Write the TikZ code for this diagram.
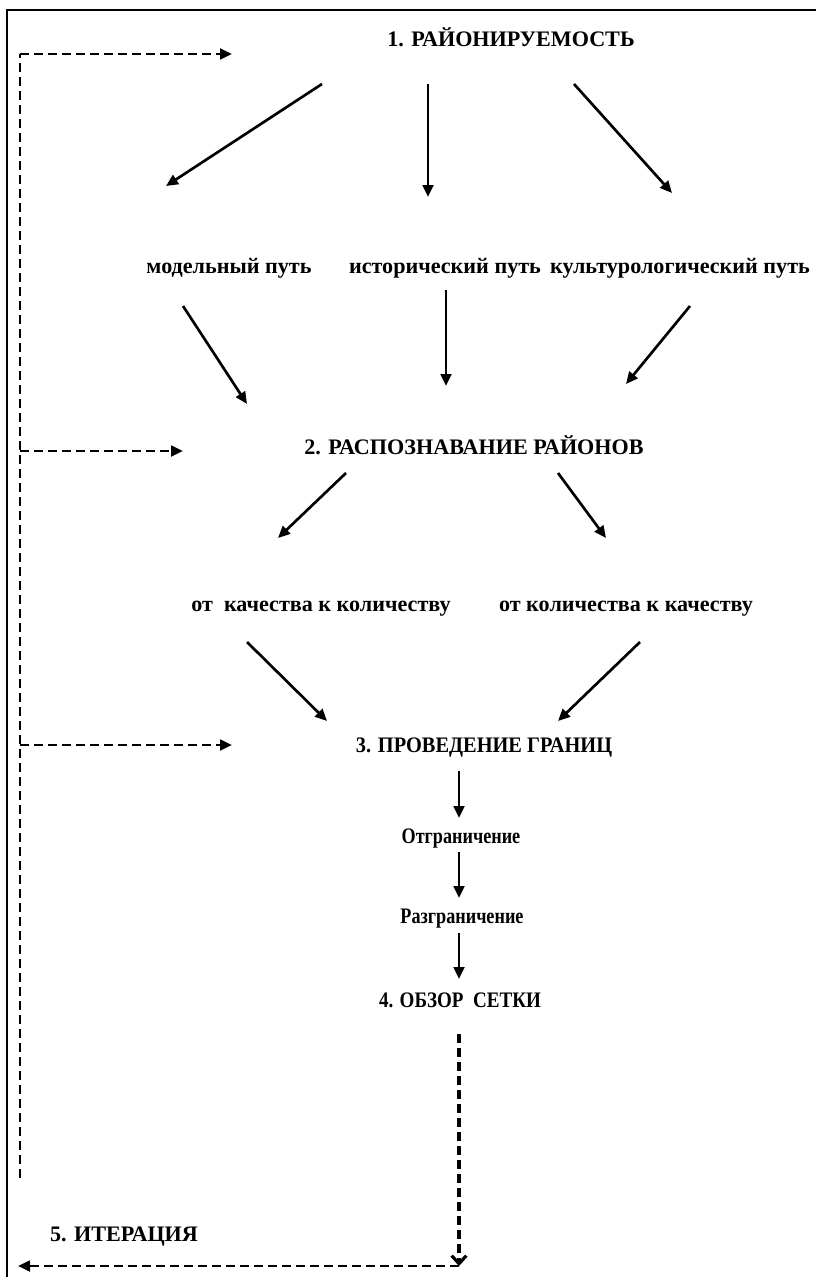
\documentclass[tikz,border=0pt]{standalone}
\usepackage{graphicx}
\usepackage{fontspec}
\setmainfont{Liberation Serif}
\usetikzlibrary{arrows.meta}
\newcommand{\narrowtext}[2]{\scalebox{#1}[1]{#2}}
\tikzset{
  lbl/.style={inner sep=0.75pt, anchor=base, font=\bfseries\fontsize{16.6}{19}\selectfont},
  arr/.style={line width=2pt, -{Triangle[length=9pt,width=8pt]}},
  darr/.style={line width=2pt, dash pattern=on 6.5pt off 4pt, -{Triangle[length=9pt,width=8pt]}},
  dline/.style={line width=2pt, dash pattern=on 6.5pt off 4pt},
}
\begin{document}
\begin{tikzpicture}[x=0.75pt,y=0.75pt,yscale=-1,xscale=1]
\useasboundingbox (0,0) rectangle (816,1277);

%Frame (cut off at right and bottom)
\draw [line width=2.2pt] (7,1280) -- (7,10) -- (820,10) ;

% Text Node
\node [lbl] (r1) at (511,47) {1. РАЙОНИРУЕМОСТЬ};
% Text Node
\node [lbl] (m1) at (229,273) {модельный путь};
% Text Node
\node [lbl] (h1) at (445,273) {исторический путь};
% Text Node
\node [lbl] (k1) at (680,273) {культурологический путь};
% Text Node
\node [lbl] (r2) at (474,454) {2. РАСПОЗНАВАНИЕ РАЙОНОВ};
% Text Node
\node [lbl] (q1) at (321,611) {от\ \ качества к количеству};
% Text Node
\node [lbl] (q2) at (626,611) {от количества к качеству};
% Text Node
\node [lbl] (r3) at (484,752) {\narrowtext{0.92}{3. ПРОВЕДЕНИЕ ГРАНИЦ}};
% Text Node
\node [lbl] (o1) at (461,843) {\narrowtext{0.82}{Отграничение}};
% Text Node
\node [lbl] (o2) at (462,923) {\narrowtext{0.82}{Разграничение}};
% Text Node
\node [lbl] (r4) at (460,1007) {\narrowtext{0.86}{4. ОБЗОР\ \ СЕТКИ}};
% Text Node
\node [lbl] (r5) at (124,1241) {5. ИТЕРАЦИЯ};

%Straight Lines
\draw [arr] ([shift={(-189,37)}]r1.base) -- ([shift={(-63,-87)}]m1.base) ;
\draw [arr] ([shift={(-83,37)}]r1.base) -- ([shift={(-17,-76)}]h1.base) ;
\draw [arr] ([shift={(63,37)}]r1.base) -- ([shift={(-8,-80)}]k1.base) ;
%Straight Lines
\draw [arr] ([shift={(-46,33)}]m1.base) -- ([shift={(-227,-50)}]r2.base) ;
\draw [arr] ([shift={(1,17)}]h1.base) -- ([shift={(-28,-68)}]r2.base) ;
\draw [arr] ([shift={(10,33)}]k1.base) -- ([shift={(152,-70)}]r2.base) ;
%Straight Lines
\draw [arr] ([shift={(-128,19)}]r2.base) -- ([shift={(-43,-73)}]q1.base) ;
\draw [arr] ([shift={(84,19)}]r2.base) -- ([shift={(-20,-73)}]q2.base) ;
%Straight Lines
\draw [arr] ([shift={(-74,31)}]q1.base) -- ([shift={(-157,-31)}]r3.base) ;
\draw [arr] ([shift={(14,31)}]q2.base) -- ([shift={(74,-31)}]r3.base) ;
%Straight Lines
\draw [arr] ([shift={(-25,19)}]r3.base) -- ([shift={(-2,-25)}]o1.base) ;
\draw [arr] ([shift={(-2,9)}]o1.base) -- ([shift={(-3,-25)}]o2.base) ;
\draw [arr] ([shift={(-3,10)}]o2.base) -- ([shift={(-1,-28)}]r4.base) ;

%Iteration loop
\coordinate (turn) at (459,1266);
\coordinate (back) at (18,1266);
\coordinate (loopTop) at (20,54);
\coordinate (loopBot) at (20,1178);
\draw [dline, line width=2.4pt, -{Straight Barb[length=6pt,width=11pt]}] ([shift={(-1,27)}]r4.base) -- (turn) ;
\draw [darr] (turn) -- (back) ;
\draw [dline] (loopBot) -- (loopTop) ;
\draw [darr] (loopTop) -- (232,54) ;
\draw [darr] (20,451) -- (183,451) ;
\draw [darr] (20,745) -- (232,745) ;

\end{tikzpicture}
\end{document}
